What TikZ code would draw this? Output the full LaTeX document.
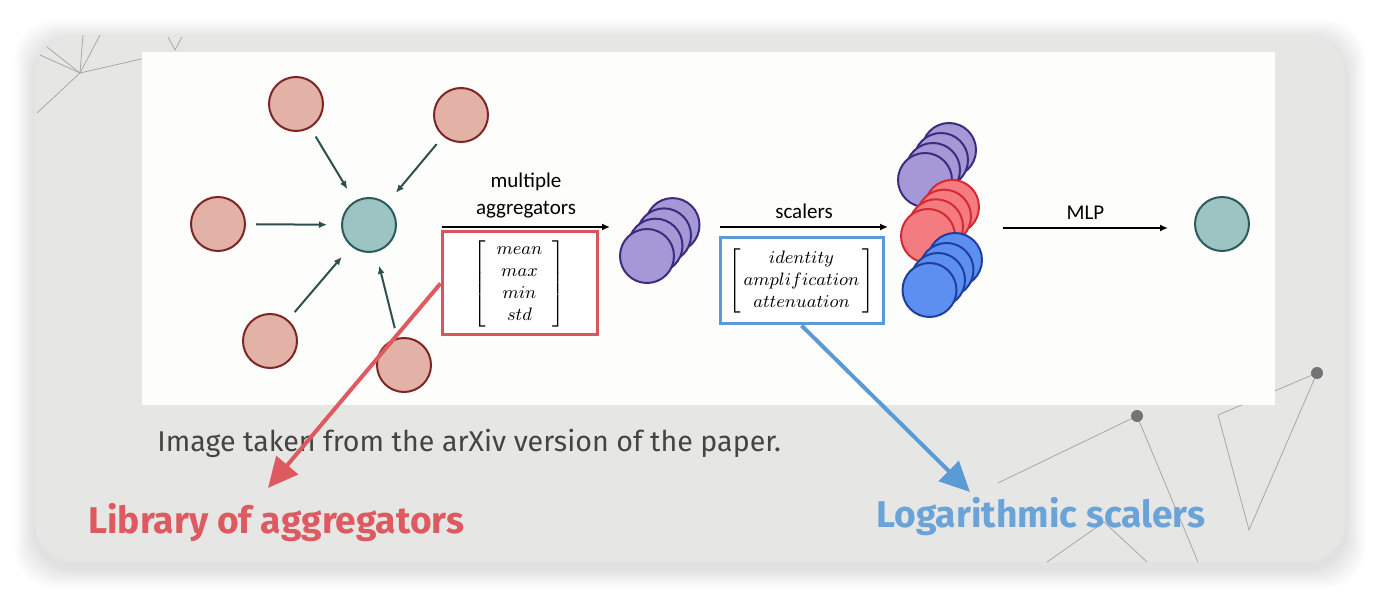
\documentclass[tikz,border=0pt]{standalone}
\usepackage{fontspec}
\usepackage{amsmath}
\usetikzlibrary{positioning}
\usetikzlibrary{arrows.meta}

\newfontfamily\figfont{Carlito}
\newfontfamily\slidefont{Fira Sans}

\definecolor{panel}{HTML}{E6E6E4}
\definecolor{imgbg}{HTML}{FDFDFB}
\definecolor{nbrfill}{HTML}{E3B2A6}
\definecolor{nbrline}{HTML}{7E2525}
\definecolor{hubfill}{HTML}{9CC4C3}
\definecolor{hubline}{HTML}{2D5A5A}
\definecolor{msgline}{HTML}{2F4F4F}
\definecolor{aggfill}{HTML}{A698D6}
\definecolor{aggline}{HTML}{3A2D7D}
\definecolor{ampfill}{HTML}{F47C80}
\definecolor{ampline}{HTML}{D42A33}
\definecolor{attfill}{HTML}{5C8FF0}
\definecolor{attline}{HTML}{1F3F9F}
\definecolor{boxred}{HTML}{D9545C}
\definecolor{boxblue}{HTML}{5B9BD5}
\definecolor{libred}{HTML}{DD5A60}
\definecolor{logblue}{HTML}{6AA3D8}
\definecolor{capgray}{HTML}{444444}
\definecolor{decogray}{HTML}{A8A8A8}

\tikzset{
    ball/.style={circle, line width=1pt, minimum size=27pt, inner sep=0pt},
    nbr/.style={ball, draw=nbrline, fill=nbrfill},
    hub/.style={ball, draw=hubline, fill=hubfill},
    agg/.style={ball, draw=aggline, fill=aggfill},
    amp/.style={ball, draw=ampline, fill=ampfill},
    att/.style={ball, draw=attline, fill=attfill},
    msg/.style={draw=msgline, line width=1pt, -{Latex[length=4pt,width=3.5pt]}, shorten <=5pt, shorten >=7pt},
    flow/.style={draw=black, line width=0.8pt, -{Latex[length=4pt,width=3.5pt]}},
    lbl/.style={font=\figfont\fontsize{10.5}{13.5}\selectfont, align=center, inner sep=1pt},
    opbox/.style={draw, line width=1.5pt, fill=white, inner sep=0pt, font=\fontsize{9.3}{11}\selectfont},
    callout/.style={line width=2pt, -{Triangle[length=15pt,width=14pt]}},
    deco/.style={draw=decogray, line width=0.4pt},
    slidetext/.style={font=\slidefont\fontsize{14.3}{16}\selectfont, inner sep=0pt, anchor=base west},
    slidetitle/.style={slidetext, font=\slidefont\bfseries\fontsize{18.6}{20}\selectfont}
}

\begin{document}
\begin{tikzpicture}[x=0.5pt, y=-0.5pt]
    \useasboundingbox (0,0) rectangle (1382,598);
    \foreach \s in {1,...,10}
        \fill[black, opacity=0.011, rounded corners=20pt] (35-2*\s,35-2*\s+5) rectangle (1345+2*\s,562+2*\s+6);
    \fill[panel, rounded corners=20pt] (35,35) rectangle (1345,562);

    \draw[deco] (47,47) -- (80,73) -- (83,35);
    \draw[deco] (40,55) -- (80,73) -- (100,35);
    \draw[deco] (37,113) -- (80,73) -- (150,57);
    \draw[deco] (168,37) -- (175,50) -- (182,37);
    \draw[deco] (998,483) -- (1137,416) -- (1198,562);
    \draw[deco] (1317,373) -- (1218,415) -- (1249,530) -- cycle;
    \draw[deco] (1047,562) -- (1104,522) -- (1147,562);
    \fill[black!55] (1137,416) circle (3pt) (1317,373) circle (3pt);

    \fill[imgbg] (142,52) rectangle (1275,405);

    \node[nbr] (n1) at (296,104) {};
    \node[nbr] (n2) at (461,115) {};
    \node[nbr] (n3) at (218,224) {};
    \node[nbr] (n4) at (270,341) {};
    \node[nbr] (n5) at (404,365) {};
    \node[hub] (c) at (369,225) {};
    \foreach \i in {1,...,5}
        \draw[msg] (n\i) -- (c);

    \coordinate (a1s) at (442,227);
    \coordinate (a1e) at (610,227);
    \draw[flow] (a1s) -- (a1e) node[midway, above=3pt, lbl] {multiple\\aggregators};
    \node[opbox, draw=boxred, minimum width=77.5pt, minimum height=51.5pt] (aggbox) at (519.5,283.5)
        {$\left[\;\;\begin{matrix} mean\\ max\\ min\\ std \end{matrix}\;\;\right]$};

    \foreach \i in {3,2,1,0}
        \node[agg] (p\i) at (647+8.5*\i, 256-10.3*\i) {};

    \coordinate (a2s) at (720,227);
    \coordinate (a2e) at (888,227);
    \draw[flow] (a2s) -- (a2e) node[midway, above=3pt, lbl] {scalers};
    \node[opbox, draw=boxblue, minimum width=81.5pt, minimum height=43pt] (scalebox) at (801.5,281)
        {$\left[\,\begin{matrix} identity\\ amplification\\ attenuation \end{matrix}\,\right]$};

    \foreach \i in {3,2,1,0}
        \node[agg] (sp\i) at (925+8*\i, 180-10*\i) {};
    \foreach \i in {3,2,1,0}
        \node[amp] (sr\i) at (928+8*\i, 236-9.7*\i) {};
    \foreach \i in {3,2,1,0}
        \node[att] (sb\i) at (929.5+8.5*\i, 290-10*\i) {};

    \coordinate (a3s) at (1003,228);
    \coordinate (a3e) at (1168,228);
    \draw[flow] (a3s) -- (a3e) node[midway, above=3pt, lbl] {MLP};
    \node[hub] (out) at (1222,224) {};

    \node[slidetext, text=capgray] (cap) at (157,452) {Image taken from the arXiv version of the paper.};
    \node[slidetitle, text=libred] (libtext) at (88,533) {Library of aggregators};
    \node[slidetitle, text=logblue] (logtext) at (876,528) {Logarithmic scalers};

    \coordinate (libtip) at (268,488);
    \coordinate (logtip) at (970,492);
    \draw[callout, draw=libred, fill=libred] (aggbox.west) -- (libtip);
    \draw[callout, draw=boxblue, fill=boxblue] (scalebox.south) -- (logtip);
\end{tikzpicture}
\end{document}
